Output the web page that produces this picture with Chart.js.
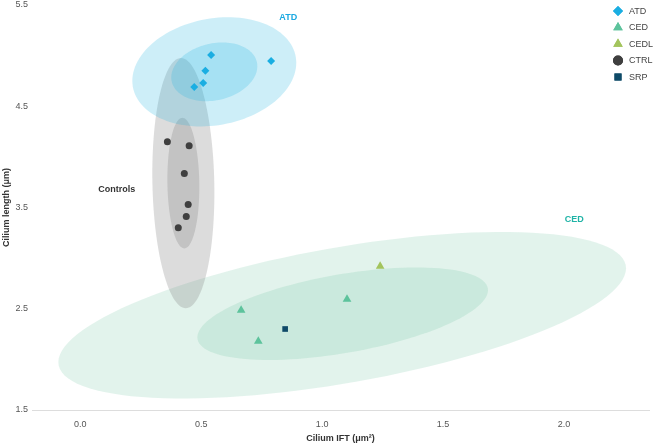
<!DOCTYPE html>
<html>
<head>
<meta charset="utf-8">
<script src="https://cdn.jsdelivr.net/npm/chart.js@4/dist/chart.umd.min.js"></script>
<style>
  html, body { margin: 0; padding: 0; background: #fff; }
  #wrap { width: 654px; height: 444px; position: relative; }
</style>
</head>
<body>
<div id="wrap"><canvas id="chartCanvas"></canvas></div>
<script>
// point data (x = cilium IFT, y = cilium length)
const atdX = [0.541, 0.789, 0.517, 0.508, 0.471];
const atdY = [5.007, 4.948, 4.850, 4.730, 4.690];
const cedX = [0.665, 1.103, 0.736];
const cedY = [2.485, 2.594, 2.180];
const cedlX = [1.240];
const cedlY = [2.920];
const ctrlX = [0.360, 0.450, 0.430, 0.446, 0.438, 0.405];
const ctrlY = [4.150, 4.110, 3.835, 3.530, 3.410, 3.300];
const srpX = [0.847];
const srpY = [2.300];

const xTicks = [0, 0.5, 1.0, 1.5, 2.0];
const yTicks = [1.5, 2.5, 3.5, 4.5, 5.5];

// confidence ellipses in data units: centre, then two conjugate half-axes
const ellipseNames = ['CED outer', 'CED inner', 'CTRL outer', 'CTRL inner', 'ATD outer', 'ATD inner'];
const ellipseCenters = [[1.083, 2.436], [1.085, 2.451], [0.426, 3.741], [0.426, 3.741], [0.554, 4.840], [0.554, 4.840]];
const ellipseAxisA = [[1.174, 0.463], [0.601, 0.232], [0.010, -1.236], [0.004, -0.645], [0.339, 0.089], [0.178, 0.055]];
const ellipseAxisB = [[0, 0.680], [0, 0.394], [0.128, 0], [0.066, 0], [0, 0.532], [0, 0.285]];
const ellipseColors = ['rgba(94,190,150,0.18)', 'rgba(94,190,150,0.18)', 'rgba(128,128,128,0.28)',
                       'rgba(128,128,128,0.28)', 'rgba(26,176,224,0.22)', 'rgba(26,176,224,0.22)'];

// group labels
const groupLabels = ['ATD', 'Controls', 'CED'];
const groupLabelPos = [[0.860, 5.372], [0.151, 3.677], [2.043, 3.382]];
const groupLabelColors = ['#1ba9e1', '#333333', '#1fb3a6'];

function pts(xs, ys) {
    return xs.map((x, i) => ({ x: x, y: ys[i] }));
}

const ellipsePlugin = {
    id: 'ellipses',
    beforeDatasetsDraw(chart) {
        const ctx = chart.ctx;
        const xs = chart.scales.x, ys = chart.scales.y;
        const area = chart.chartArea;
        ctx.save();
        ctx.beginPath();
        ctx.rect(area.left, area.top, area.right - area.left, area.bottom - area.top);
        ctx.clip();
        ellipseNames.forEach((name, k) => {
            const c = ellipseCenters[k], a = ellipseAxisA[k], b = ellipseAxisB[k];
            ctx.beginPath();
            for (let i = 0; i <= 120; i++) {
                const t = i / 120 * Math.PI * 2;
                const px = xs.getPixelForValue(c[0] + Math.cos(t) * a[0] + Math.sin(t) * b[0]);
                const py = ys.getPixelForValue(c[1] + Math.cos(t) * a[1] + Math.sin(t) * b[1]);
                if (i === 0) ctx.moveTo(px, py); else ctx.lineTo(px, py);
            }
            ctx.closePath();
            ctx.fillStyle = ellipseColors[k];
            ctx.fill();
        });
        ctx.restore();
    },
    afterDatasetsDraw(chart) {
        const ctx = chart.ctx;
        const xs = chart.scales.x, ys = chart.scales.y;
        ctx.save();
        ctx.font = 'bold 9px "Liberation Sans", Arial, sans-serif';
        ctx.textAlign = 'center';
        ctx.textBaseline = 'middle';
        groupLabels.forEach((txt, k) => {
            ctx.fillStyle = groupLabelColors[k];
            ctx.fillText(txt, xs.getPixelForValue(groupLabelPos[k][0]), ys.getPixelForValue(groupLabelPos[k][1]));
        });
        ctx.restore();
    }
};

// legend drawn in the top right corner, over the plot
const legendPlugin = {
    id: 'cornerLegend',
    afterDraw(chart) {
        const ctx = chart.ctx;
        ctx.save();
        ctx.font = '9px "Liberation Sans", Arial, sans-serif';
        ctx.textBaseline = 'middle';
        chart.data.datasets.forEach((ds, i) => {
            const y = 11 + i * 16.5;
            const x = 618;
            ctx.fillStyle = ds.backgroundColor;
            Chart.helpers.drawPoint(ctx, {
                pointStyle: ds.pointStyle,
                radius: ds.pointStyle === 'triangle' ? 5.5 : 5,
                rotation: 0,
                borderWidth: 0
            }, x, y);
            ctx.fill();
            ctx.fillStyle = '#444';
            ctx.fillText(ds.label, 629, y + 0.5);
        });
        ctx.restore();
    }
};

// no extra room for half tick labels at the ends, the plot runs to the edge
function noEndPadding(scale) {
    scale.paddingTop = 0;
    scale.paddingBottom = 0;
    scale.paddingLeft = 0;
    scale.paddingRight = 0;
}

const canvas = document.getElementById('chartCanvas');
const ctx = canvas.getContext('2d');

new Chart(ctx, {
    type: 'scatter',
    data: {
        datasets: [
            { label: 'ATD', data: pts(atdX, atdY), pointStyle: 'rectRot', pointRadius: 4, backgroundColor: '#1aaee2', borderWidth: 0 },
            { label: 'CED', data: pts(cedX, cedY), pointStyle: 'triangle', pointRadius: 5, backgroundColor: '#5dc39c', borderWidth: 0 },
            { label: 'CEDL', data: pts(cedlX, cedlY), pointStyle: 'triangle', pointRadius: 5, backgroundColor: '#a3c45d', borderWidth: 0 },
            { label: 'CTRL', data: pts(ctrlX, ctrlY), pointStyle: 'circle', pointRadius: 3.5, backgroundColor: '#3f3f3f', borderWidth: 0 },
            { label: 'SRP', data: pts(srpX, srpY), pointStyle: 'rect', pointRadius: 4, backgroundColor: '#0e4a68', borderWidth: 0 }
        ]
    },
    options: {
        responsive: true,
        maintainAspectRatio: false,
        animation: false,
        layout: { padding: { top: 4, right: 0, bottom: 0, left: 0 } },
        plugins: {
            legend: { display: false },
            tooltip: { enabled: false }
        },
        scales: {
            x: {
                type: 'linear',
                min: -0.2,
                max: 2.352,
                afterBuildTicks: (scale) => { scale.ticks = xTicks.map(v => ({ value: v })); },
                afterFit: (scale) => { scale.height = 34; noEndPadding(scale); },
                grid: { display: false, drawTicks: false },
                border: { display: true, color: '#dddddd' },
                ticks: {
                    color: '#555',
                    padding: 9,
                    font: { family: '"Liberation Sans", Arial, sans-serif', size: 9 },
                    callback: (v) => Number(v).toFixed(1)
                },
                title: {
                    display: true,
                    text: 'Cilium IFT (μm²)',
                    color: '#333',
                    padding: { top: 2, bottom: 0 },
                    font: { family: '"Liberation Sans", Arial, sans-serif', size: 9, weight: 'bold' }
                }
            },
            y: {
                type: 'linear',
                min: 1.5,
                max: 5.5,
                afterBuildTicks: (scale) => { scale.ticks = yTicks.map(v => ({ value: v })); },
                afterFit: (scale) => { scale.width = 32; noEndPadding(scale); },
                grid: { display: false, drawTicks: false },
                border: { display: false },
                ticks: {
                    color: '#555',
                    padding: 4,
                    font: { family: '"Liberation Sans", Arial, sans-serif', size: 9 },
                    callback: (v) => Number(v).toFixed(1)
                },
                title: {
                    display: true,
                    text: 'Cilium length (μm)',
                    color: '#333',
                    padding: { top: 1, bottom: 0 },
                    font: { family: '"Liberation Sans", Arial, sans-serif', size: 9, weight: 'bold' }
                }
            }
        }
    },
    plugins: [ellipsePlugin, legendPlugin]
});
</script>
</body>
</html>
